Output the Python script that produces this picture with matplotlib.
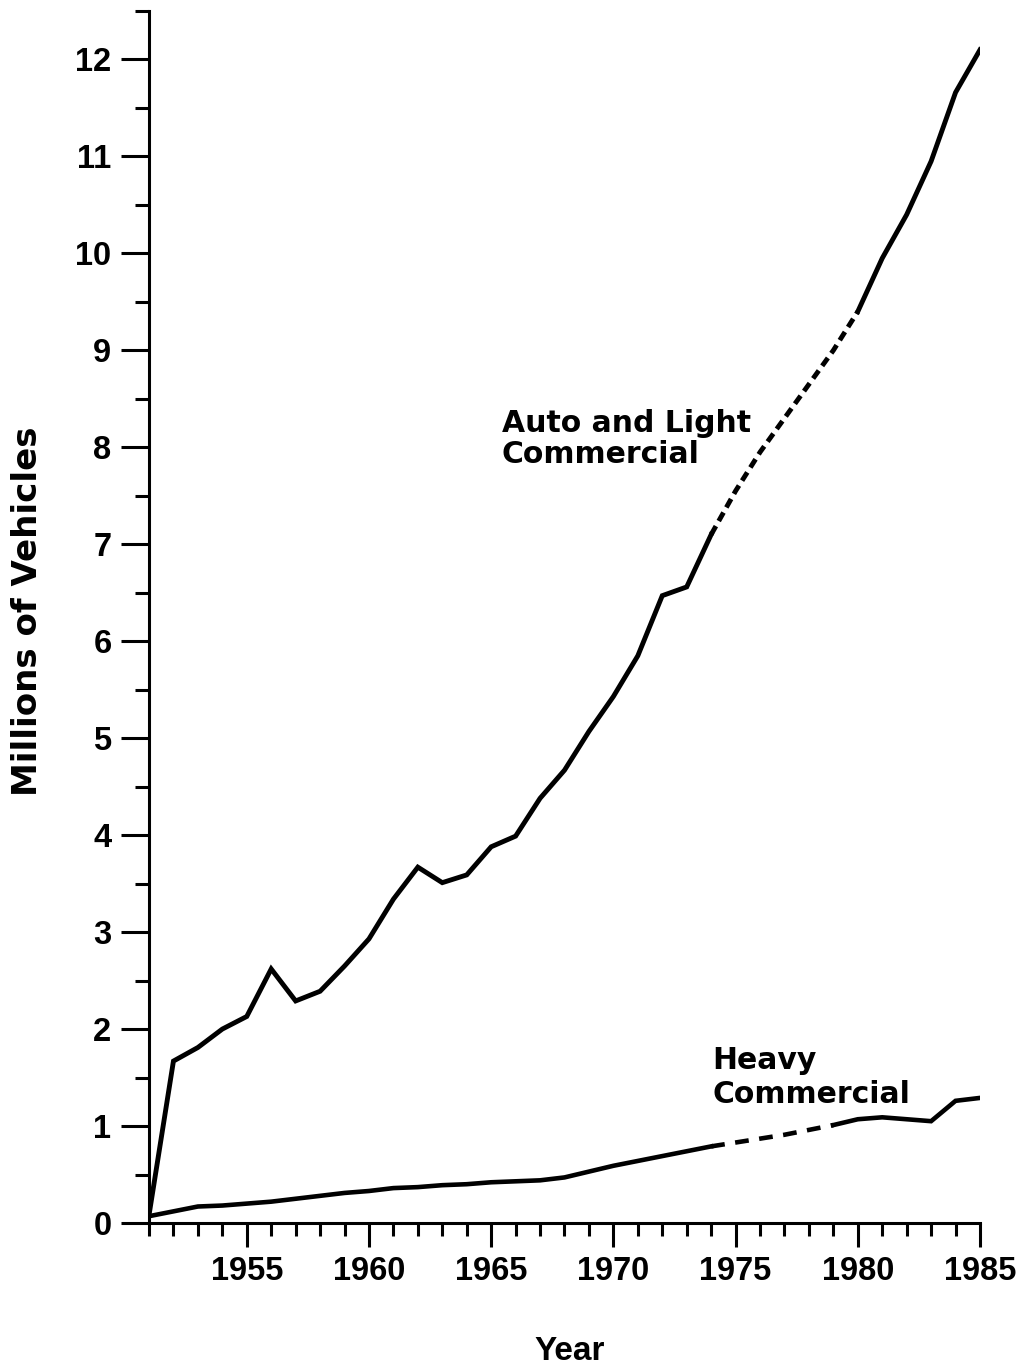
import numpy as np
import matplotlib
matplotlib.use('Agg')
import matplotlib.pyplot as plt
from matplotlib.ticker import MultipleLocator

years = list(range(1951, 1986))
auto = [0.08, 1.67, 1.81, 2.00, 2.13, 2.62, 2.29, 2.39, 2.65, 2.93,
        3.34, 3.67, 3.51, 3.59, 3.88, 3.99, 4.38, 4.67, 5.07, 5.43,
        5.85, 6.47, 6.56, 7.10, 7.55, 7.95, 8.30, 8.65, 9.00, 9.40,
        9.95, 10.40, 10.95, 11.66, 12.10]
heavy = [0.07, 0.12, 0.17, 0.18, 0.20, 0.22, 0.25, 0.28, 0.31, 0.33,
         0.36, 0.37, 0.39, 0.40, 0.42, 0.43, 0.44, 0.47, 0.53, 0.59,
         0.64, 0.69, 0.74, 0.79, 0.83, 0.87, 0.91, 0.96, 1.01, 1.07,
         1.09, 1.07, 1.05, 1.26, 1.29]
# years drawn dashed (estimated)
auto_gap = (1974, 1980)
heavy_gap = (1974, 1979)

yr = np.array(years)
auto = np.array(auto)
heavy = np.array(heavy)

fig = plt.figure(figsize=(10.33, 13.66), dpi=100)
ax = fig.add_axes([0.14424, 0.10469, 0.80445, 0.88726])

def draw(vals, gap, lw, dash):
    a, b = gap
    m1 = yr <= a
    m2 = (yr >= a) & (yr <= b)
    m3 = yr >= b
    ax.plot(yr[m1], vals[m1], c='k', lw=lw, solid_joinstyle='miter')
    ax.plot(yr[m2], vals[m2], c='k', lw=lw, ls=(0, dash), dash_capstyle='butt')
    ax.plot(yr[m3], vals[m3], c='k', lw=lw, solid_joinstyle='miter')

draw(auto, auto_gap, 3.5, (2.0, 1.2))
draw(heavy, heavy_gap, 3.3, (3.0, 2.3))

ax.set_xlim(1951, 1985)
ax.set_ylim(0, 12.5)
for s in ['top', 'right']:
    ax.spines[s].set_visible(False)
for s in ['left', 'bottom']:
    ax.spines[s].set_linewidth(2.2)

ax.xaxis.set_major_locator(MultipleLocator(5))
ax.xaxis.set_minor_locator(MultipleLocator(1))
ax.yaxis.set_major_locator(MultipleLocator(1))
ax.yaxis.set_minor_locator(MultipleLocator(0.5))
ax.set_xticks([1955, 1960, 1965, 1970, 1975, 1980, 1985])
ax.tick_params(axis='both', which='both', direction='out', width=2.2, colors='k')
ax.tick_params(axis='y', which='major', length=20, pad=7)
ax.tick_params(axis='y', which='minor', length=10)
ax.tick_params(axis='x', which='major', length=17, pad=7)
ax.tick_params(axis='x', which='minor', length=9.5)

for lab in ax.get_xticklabels() + ax.get_yticklabels():
    lab.set_fontfamily('Liberation Sans')
    lab.set_fontweight('bold')
    lab.set_fontsize(23.5)

ax.text(1965.44, 8.40, 'Auto and Light\nCommercial', family='DejaVu Sans',
        fontweight='bold', fontsize=21.5, ha='left', va='top', linespacing=1.12)
ax.text(1974.04, 1.83, 'Heavy\nCommercial', family='DejaVu Sans',
        fontweight='bold', fontsize=21.5, ha='left', va='top', linespacing=1.22)

fig.text(28 / 1033, 1 - 611 / 1366, 'Millions of Vehicles', family='DejaVu Sans',
         fontweight='bold', fontsize=24.5, rotation=90, ha='center', va='center')
fig.text(570 / 1033, 1 - 1351 / 1366, 'Year', family='Liberation Sans',
         fontweight='bold', fontsize=24, ha='center', va='center')

fig.savefig('out.png', dpi=100)
